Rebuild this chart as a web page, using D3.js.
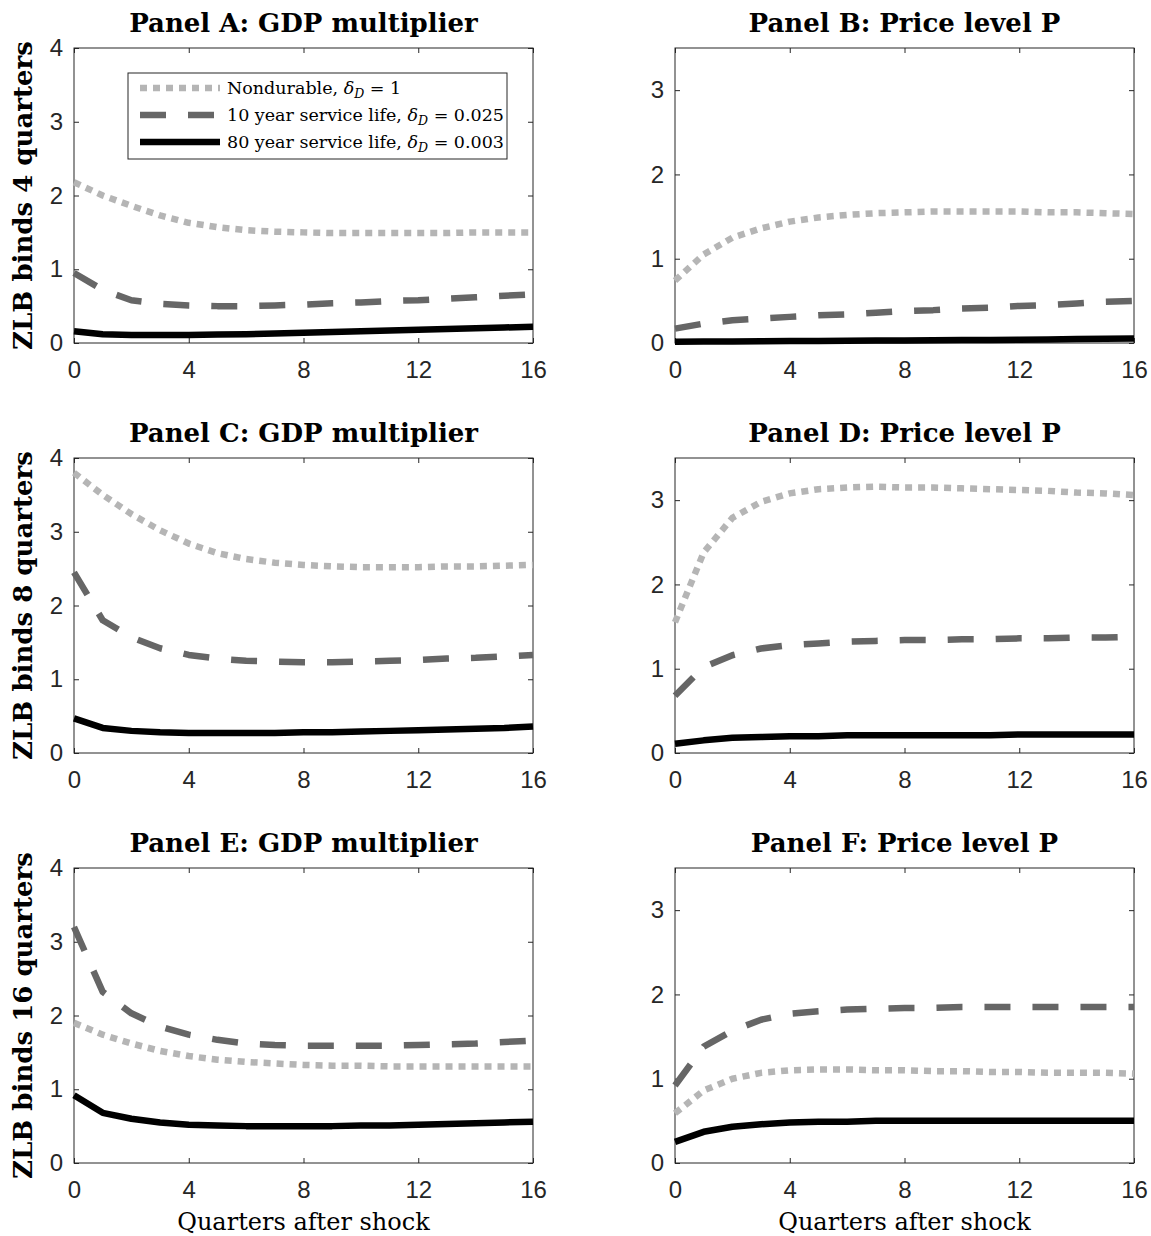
<!DOCTYPE html>
<html>
<head>
<meta charset="utf-8">
<script src="https://cdn.jsdelivr.net/npm/d3@7/dist/d3.min.js"></script>
<style>
body { margin: 0; background: #fff; }
</style>
</head>
<body>
<script>
// Size of the whole figure
var width = 1151;
var height = 1236;

// Horizontal axis: quarters after the shock
var quarters = [0, 1, 2, 3, 4, 5, 6, 7, 8, 9, 10, 11, 12, 13, 14, 15, 16];
var xTicks = [0, 4, 8, 12, 16];

// Vertical axes
var gdpMax = 4;
var gdpTicks = [0, 1, 2, 3, 4];
var priceMax = 3.5;
var priceTicks = [0, 1, 2, 3];

// Labels
var panelTitles = ["Panel A: GDP multiplier", "Panel B: Price level P",
                   "Panel C: GDP multiplier", "Panel D: Price level P",
                   "Panel E: GDP multiplier", "Panel F: Price level P"];
var rowLabels = ["ZLB binds 4 quarters", "ZLB binds 8 quarters", "ZLB binds 16 quarters"];
var xLabel = "Quarters after shock";
var seriesNames = ["Nondurable, ", "10 year service life, ", "80 year service life, "];
var seriesDelta = ["1", "0.025", "0.003"];

// Panel A: GDP multiplier, ZLB binds 4 quarters
var aNondurable = [2.18, 2.00, 1.86, 1.73, 1.63, 1.57, 1.53, 1.51, 1.50, 1.49, 1.49, 1.49, 1.49, 1.49, 1.50, 1.50, 1.50];
var aTenYear    = [0.95, 0.72, 0.58, 0.53, 0.51, 0.50, 0.50, 0.51, 0.52, 0.54, 0.55, 0.57, 0.58, 0.60, 0.62, 0.64, 0.66];
var aEightyYear = [0.16, 0.12, 0.11, 0.11, 0.11, 0.115, 0.12, 0.13, 0.14, 0.15, 0.16, 0.17, 0.18, 0.19, 0.20, 0.21, 0.22];

// Panel B: price level, ZLB binds 4 quarters
var bNondurable = [0.74, 1.05, 1.25, 1.36, 1.44, 1.49, 1.52, 1.54, 1.55, 1.56, 1.56, 1.56, 1.56, 1.55, 1.55, 1.54, 1.53];
var bTenYear    = [0.17, 0.23, 0.27, 0.29, 0.31, 0.33, 0.34, 0.36, 0.38, 0.39, 0.41, 0.42, 0.44, 0.45, 0.47, 0.49, 0.50];
var bEightyYear = [0.015, 0.017, 0.019, 0.021, 0.023, 0.025, 0.027, 0.029, 0.031, 0.033, 0.035, 0.037, 0.04, 0.043, 0.046, 0.05, 0.054];

// Panel C: GDP multiplier, ZLB binds 8 quarters
var cNondurable = [3.80, 3.50, 3.24, 3.02, 2.84, 2.71, 2.63, 2.58, 2.55, 2.53, 2.52, 2.52, 2.52, 2.53, 2.53, 2.54, 2.55];
var cTenYear    = [2.45, 1.80, 1.57, 1.42, 1.33, 1.28, 1.25, 1.24, 1.23, 1.23, 1.24, 1.25, 1.26, 1.28, 1.29, 1.31, 1.33];
var cEightyYear = [0.47, 0.34, 0.30, 0.28, 0.27, 0.27, 0.27, 0.27, 0.28, 0.28, 0.29, 0.30, 0.31, 0.32, 0.33, 0.34, 0.36];

// Panel D: price level, ZLB binds 8 quarters
var dNondurable = [1.55, 2.38, 2.79, 2.98, 3.08, 3.13, 3.15, 3.16, 3.15, 3.15, 3.14, 3.13, 3.12, 3.11, 3.09, 3.08, 3.06];
var dTenYear    = [0.68, 1.02, 1.16, 1.24, 1.28, 1.30, 1.32, 1.33, 1.34, 1.34, 1.35, 1.35, 1.36, 1.36, 1.37, 1.37, 1.38];
var dEightyYear = [0.11, 0.15, 0.18, 0.19, 0.20, 0.20, 0.21, 0.21, 0.21, 0.21, 0.21, 0.21, 0.22, 0.22, 0.22, 0.22, 0.22];

// Panel E: GDP multiplier, ZLB binds 16 quarters
var eNondurable = [1.90, 1.74, 1.62, 1.52, 1.45, 1.40, 1.37, 1.35, 1.33, 1.32, 1.32, 1.31, 1.31, 1.31, 1.31, 1.31, 1.31];
var eTenYear    = [3.20, 2.32, 2.03, 1.85, 1.74, 1.67, 1.62, 1.60, 1.59, 1.59, 1.59, 1.59, 1.60, 1.61, 1.62, 1.64, 1.66];
var eEightyYear = [0.92, 0.68, 0.60, 0.55, 0.52, 0.51, 0.50, 0.50, 0.50, 0.50, 0.51, 0.51, 0.52, 0.53, 0.54, 0.55, 0.56];

// Panel F: price level, ZLB binds 16 quarters
var fNondurable = [0.59, 0.86, 1.00, 1.07, 1.10, 1.11, 1.11, 1.10, 1.10, 1.09, 1.09, 1.08, 1.08, 1.07, 1.07, 1.07, 1.06];
var fTenYear    = [0.92, 1.38, 1.57, 1.70, 1.77, 1.80, 1.82, 1.83, 1.84, 1.84, 1.85, 1.85, 1.85, 1.85, 1.85, 1.85, 1.85];
var fEightyYear = [0.25, 0.37, 0.43, 0.46, 0.48, 0.49, 0.49, 0.50, 0.50, 0.50, 0.50, 0.50, 0.50, 0.50, 0.50, 0.50, 0.50];

// Line styles for the three goods (nondurable, 10 year, 80 year)
var lineColor = ["#b5b5b5", "#666666", "#000000"];
var lineDash = ["7,6", "26,22", null];
var lineWidth = 6.5;

var axisColor = "#262626";
var serif = "'DejaVu Serif', serif";
var sans = "'Liberation Sans', Arial, sans-serif";

// Panel grid
var colLeft = [74, 675];
var rowTop = [48, 458, 868];
var plotW = 459;
var plotH = 295;

var panels = [
    {row: 0, col: 0, max: gdpMax, ticks: gdpTicks, series: [aNondurable, aTenYear, aEightyYear]},
    {row: 0, col: 1, max: priceMax, ticks: priceTicks, series: [bNondurable, bTenYear, bEightyYear]},
    {row: 1, col: 0, max: gdpMax, ticks: gdpTicks, series: [cNondurable, cTenYear, cEightyYear]},
    {row: 1, col: 1, max: priceMax, ticks: priceTicks, series: [dNondurable, dTenYear, dEightyYear]},
    {row: 2, col: 0, max: gdpMax, ticks: gdpTicks, series: [eNondurable, eTenYear, eEightyYear]},
    {row: 2, col: 1, max: priceMax, ticks: priceTicks, series: [fNondurable, fTenYear, fEightyYear]}
];

var svg = d3.select("body")
            .append("svg")
            .attr("width", width)
            .attr("height", height);

var x = d3.scaleLinear().domain([0, 16]).range([0, plotW]);
var fmt = d3.format("d");

panels.forEach(function(p, i) {
    var y = d3.scaleLinear().domain([0, p.max]).range([plotH, 0]);
    var g = svg.append("g")
               .attr("transform", "translate(" + colLeft[p.col] + "," + rowTop[p.row] + ")");

    // Axes with inward ticks on all four sides (box on)
    var bottom = g.append("g").attr("transform", "translate(0," + plotH + ")")
        .call(d3.axisBottom(x).tickValues(xTicks).tickFormat(fmt).tickSizeInner(-5).tickSizeOuter(0).tickPadding(18));
    var top = g.append("g")
        .call(d3.axisTop(x).tickValues(xTicks).tickSizeInner(-5).tickSizeOuter(0).tickFormat(""));
    var left = g.append("g")
        .call(d3.axisLeft(y).tickValues(p.ticks).tickFormat(fmt).tickSizeInner(-5).tickSizeOuter(0).tickPadding(11));
    var right = g.append("g").attr("transform", "translate(" + plotW + ",0)")
        .call(d3.axisRight(y).tickValues(p.ticks).tickSizeInner(-5).tickSizeOuter(0).tickFormat(""));

    [bottom, top, left, right].forEach(function(a) {
        a.select(".domain").remove();
        a.selectAll("line").attr("stroke", axisColor);
        a.selectAll("text")
         .attr("fill", axisColor)
         .style("font-family", sans)
         .style("font-size", "24px");
    });

    g.append("rect")
     .attr("width", plotW)
     .attr("height", plotH)
     .attr("fill", "none")
     .attr("stroke", axisColor)
     .attr("stroke-width", 1);

    // Title
    g.append("text")
     .attr("x", plotW / 2)
     .attr("y", -16)
     .attr("text-anchor", "middle")
     .style("font-family", serif)
     .style("font-weight", "bold")
     .style("font-size", "26px")
     .text(panelTitles[i]);

    // Row label on the left column
    if (p.col == 0) {
        g.append("text")
         .attr("transform", "translate(-42," + (plotH / 2) + ") rotate(-90)")
         .attr("text-anchor", "middle")
         .style("font-family", serif)
         .style("font-weight", "bold")
         .style("font-size", "26px")
         .text(rowLabels[p.row]);
    }

    // x label on the bottom row
    if (p.row == 2) {
        g.append("text")
         .attr("x", plotW / 2)
         .attr("y", plotH + 67)
         .attr("text-anchor", "middle")
         .style("font-family", serif)
         .style("font-size", "24px")
         .text(xLabel);
    }

    // Lines
    var line = d3.line()
                 .x(function(d, j) { return x(quarters[j]); })
                 .y(function(d) { return y(d); });

    p.series.forEach(function(s, k) {
        g.append("path")
         .datum(s)
         .attr("d", line)
         .attr("fill", "none")
         .attr("stroke", lineColor[k])
         .attr("stroke-width", lineWidth)
         .attr("stroke-dasharray", lineDash[k])
         .attr("stroke-linejoin", "round");
    });

    // Legend only in panel A
    if (i == 0) {
        var lg = g.append("g").attr("transform", "translate(54,25)");
        lg.append("rect")
          .attr("width", 379)
          .attr("height", 86)
          .attr("fill", "#fff")
          .attr("stroke", axisColor)
          .attr("stroke-width", 1);

        seriesNames.forEach(function(name, k) {
            var cy = 15 + k * 27;
            lg.append("line")
              .attr("x1", 12).attr("x2", 92)
              .attr("y1", cy).attr("y2", cy)
              .attr("stroke", lineColor[k])
              .attr("stroke-width", lineWidth)
              .attr("stroke-dasharray", lineDash[k]);
            var t = lg.append("text")
                      .attr("x", 99)
                      .attr("y", cy + 6)
                      .style("font-family", serif)
                      .style("font-size", "17.5px");
            t.append("tspan").text(name);
            t.append("tspan").style("font-style", "italic").text("\u03B4");
            t.append("tspan").style("font-style", "italic").style("font-size", "12.5px")
             .attr("dy", 4).text("D");
            t.append("tspan").attr("dy", -4).text(" = " + seriesDelta[k]);
        });
    }
});
</script>
</body>
</html>
